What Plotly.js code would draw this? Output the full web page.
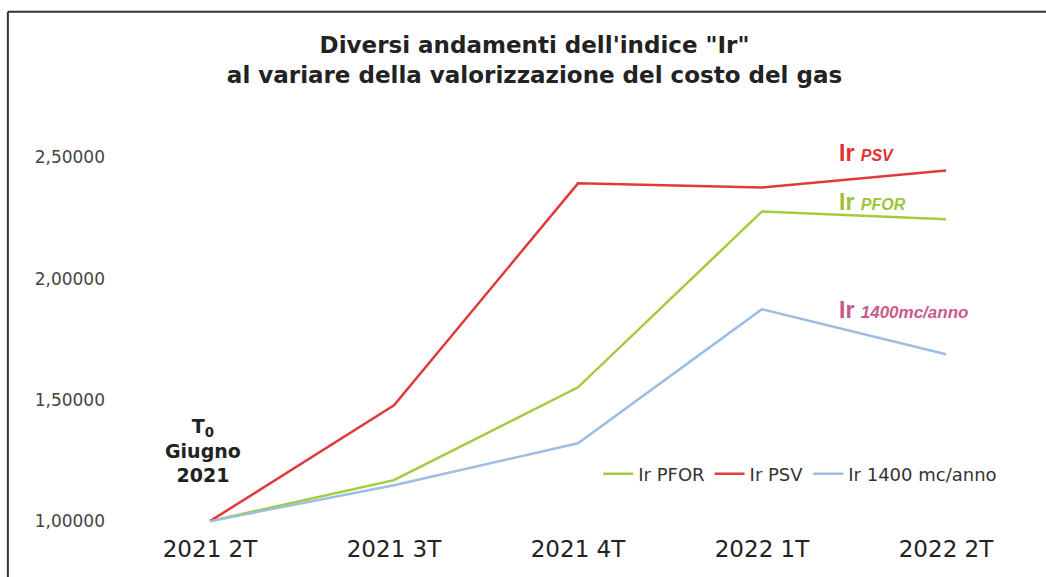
<!DOCTYPE html>
<html><head><meta charset="utf-8">
<script src="https://cdn.plot.ly/plotly-3.0.1.min.js"></script>
<style>html,body{margin:0;padding:0;background:#fff}#chart{width:1046px;height:577px}</style>
</head><body><div id="chart"></div>
<script>
const categories = ["2021 2T","2021 3T","2021 4T","2022 1T","2022 2T"];
const irPFOR = [1.0, 1.169, 1.552, 2.277, 2.245];
const irPSV = [1.0, 1.478, 2.393, 2.376, 2.446];
const ir1400 = [1.0, 1.148, 1.321, 1.874, 1.688];
const seriesNames = ["Ir PFOR","Ir PSV","Ir 1400 mc/anno"];
const yTicks = [1.0, 1.5, 2.0, 2.5];

const colors = ["#a3cc3c","#e03a3a","#9dbde3"];
const data = [irPFOR, irPSV, ir1400].map((v,i)=>({
  type:"scatter", mode:"lines", x:categories, y:v, name:seriesNames[i],
  line:{color:colors[i], width:2.5}
}));

const layout = {
  width:1046, height:577,
  paper_bgcolor:"#fff", plot_bgcolor:"#fff",
  separators:",.",
  margin:{l:118, r:8, t:121, b:51},
  font:{family:"DejaVu Sans, sans-serif"},
  title:{text:"<b>Diversi andamenti dell'indice \"Ir\"<br>al variare della valorizzazione del costo del gas</b>",
    x:0.511, xanchor:"center", y:0.908, yanchor:"middle",
    font:{size:23, color:"#222", family:"DejaVu Sans, sans-serif"}},
  xaxis:{type:"category", range:[-0.5,4.5], showgrid:false, zeroline:false, showline:false,
    ticks:"", tickfont:{size:23, color:"#222"}, ticklabelstandoff:7},
  yaxis:{range:[0.98,2.65], tickvals:yTicks, tickformat:".5f", showgrid:false, zeroline:false,
    showline:false, ticks:"", tickfont:{size:17, color:"#444"}, ticklabelstandoff:12},
  showlegend:true,
  legend:{orientation:"h", x:0.522, xanchor:"left", y:0.128, yanchor:"middle",
    font:{size:18, color:"#333"}, itemwidth:30, traceorder:"normal", bgcolor:"rgba(0,0,0,0)"},
  shapes:[
    {type:"line", xref:"paper", yref:"paper", x0:-0.1197, x1:1.01, y0:1.27, y1:1.27, line:{color:"#333", width:2}},
    {type:"line", xref:"paper", yref:"paper", x0:-0.1197, x1:-0.1197, y0:-0.15, y1:1.27, line:{color:"#333", width:2}}
  ],
  annotations:[
    {xref:"paper", yref:"y", x:0.782, y:2.518, xanchor:"left", yanchor:"middle", showarrow:false,
     text:"<b>Ir</b> <b><i><span style='font-size:16px'>PSV</span></i></b>", font:{size:23, color:"#e03030", family:"Liberation Sans, sans-serif"}},
    {xref:"paper", yref:"y", x:0.782, y:2.318, xanchor:"left", yanchor:"middle", showarrow:false,
     text:"<b>Ir</b> <b><i><span style='font-size:16px'>PFOR</span></i></b>", font:{size:23, color:"#9cc43a", family:"Liberation Sans, sans-serif"}},
    {xref:"paper", yref:"y", x:0.782, y:1.87, xanchor:"left", yanchor:"middle", showarrow:false,
     text:"<b>Ir</b> <b><i><span style='font-size:17px'>1400mc/anno</span></i></b>", font:{size:23, color:"#c85a8a", family:"Liberation Sans, sans-serif"}},
    {xref:"paper", yref:"y", x:0.0924, y:1.29, xanchor:"center", yanchor:"middle", showarrow:false,
     text:"<b>T<sub>0</sub><br>Giugno<br>2021</b>", font:{size:19, color:"#222"}}
  ]
};
Plotly.newPlot("chart", data, layout, {displayModeBar:false, staticPlot:true});
</script></body></html>
